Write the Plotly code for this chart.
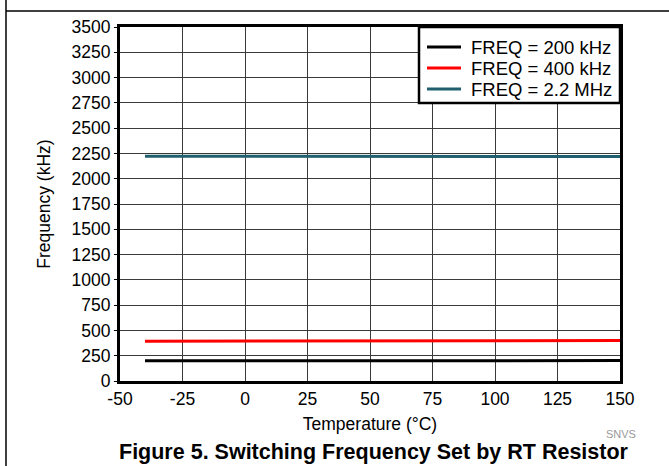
import plotly.graph_objects as go

temperature = [-40, 0, 50, 100, 150]
freq_200k = [199, 200, 200, 201, 202]
freq_400k = [394, 395, 397, 398, 400]
freq_2p2M = [2222, 2221, 2221, 2220, 2220]

series_names = ["FREQ = 200 kHz", "FREQ = 400 kHz", "FREQ = 2.2 MHz"]
series_colors = ["#000000", "#ff0000", "#1f5f6e"]

x_ticks = [-50, -25, 0, 25, 50, 75, 100, 125, 150]
y_ticks = list(range(0, 3501, 250))

FONT = "Liberation Sans, Arial, sans-serif"

fig = go.Figure()
for name, color, vals in zip(series_names, series_colors, [freq_200k, freq_400k, freq_2p2M]):
    fig.add_trace(go.Scatter(x=temperature, y=vals, mode="lines", name=name,
                             line=dict(color=color, width=3), showlegend=False))

W, H = 669, 466
ml, mr, mt, mb = 120, 49, 27, 85
pw, ph = W - ml - mr, H - mt - mb

def px_x(p):
    return (p - ml) / pw

def px_y(p):
    return (H - mb - p) / ph

shapes = [
    dict(type="line", xref="paper", yref="paper",
         x0=px_x(6), x1=px_x(669), y0=px_y(11), y1=px_y(11),
         line=dict(color="black", width=1.5)),
    dict(type="line", xref="paper", yref="paper",
         x0=px_x(6), x1=px_x(6), y0=px_y(0), y1=px_y(466),
         line=dict(color="black", width=1.5)),
    # legend box
    dict(type="rect", xref="paper", yref="paper", layer="above",
         x0=px_x(419), x1=1, y0=px_y(103), y1=1,
         fillcolor="white", line=dict(color="black", width=2.5)),
]
annotations = [
    dict(text="SNVS", xref="paper", yref="paper", x=px_x(638), y=px_y(434),
         xanchor="right", yanchor="middle", showarrow=False,
         font=dict(size=11, color="#999999")),
    dict(text="<b>Figure 5. Switching Frequency Set by RT Resistor</b>",
         xref="paper", yref="paper", x=px_x(374), y=px_y(452),
         xanchor="center", yanchor="middle", showarrow=False,
         font=dict(size=21.5, color="black")),
]
legend_rows = [47, 68, 89]
for name, color, row in zip(series_names, series_colors, legend_rows):
    shapes.append(dict(type="line", xref="paper", yref="paper", layer="above",
                       x0=px_x(427), x1=px_x(461), y0=px_y(row), y1=px_y(row),
                       line=dict(color=color, width=3)))
    annotations.append(dict(text=name, xref="paper", yref="paper",
                            x=px_x(469), y=px_y(row), xanchor="left", yanchor="middle",
                            showarrow=False, font=dict(size=18.5, color="black")))

fig.update_layout(
    width=W, height=H,
    margin=dict(l=ml, r=mr, t=mt, b=mb),
    paper_bgcolor="white", plot_bgcolor="white",
    font=dict(family=FONT, size=17.5, color="black"),
    showlegend=False,
    xaxis=dict(range=[-50, 150], tickvals=x_ticks, ticktext=[str(v) for v in x_ticks],
               showgrid=True, gridcolor="#3a3a3a", gridwidth=1,
               showline=True, linecolor="black", linewidth=3, mirror=True,
               ticks="", zeroline=False,
               title=dict(text="Temperature (°C)", font=dict(size=17.5), standoff=10)),
    yaxis=dict(range=[0, 3500], tickvals=y_ticks, ticktext=[str(v) for v in y_ticks],
               showgrid=True, gridcolor="#3a3a3a", gridwidth=1,
               showline=True, linecolor="black", linewidth=3, mirror=True,
               ticks="outside", ticklen=3, tickcolor="black", zeroline=False,
               title=dict(text="Frequency (kHz)", font=dict(size=17.5), standoff=17)),
    shapes=shapes,
    annotations=annotations,
)

fig.write_html("out.html", config={"displayModeBar": False},
               post_script="document.body.style.margin='0';document.body.style.padding='0';")
